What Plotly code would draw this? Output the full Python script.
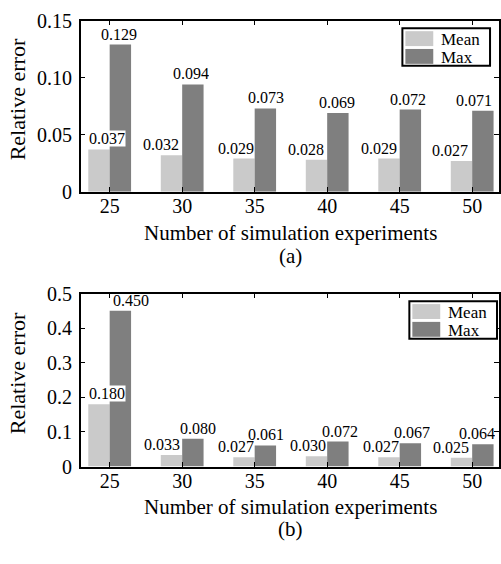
import plotly.graph_objects as go

# ---------------- data ----------------
categories = ["25", "30", "35", "40", "45", "50"]
mean_a = [0.037, 0.032, 0.029, 0.028, 0.029, 0.027]
max_a = [0.129, 0.094, 0.073, 0.069, 0.072, 0.071]
mean_b = [0.180, 0.033, 0.027, 0.030, 0.027, 0.025]
max_b = [0.450, 0.080, 0.061, 0.072, 0.067, 0.064]
yticks_a = [0, 0.05, 0.10, 0.15]
yticklabels_a = ["0", "0.05", "0.10", "0.15"]
yticks_b = [0, 0.1, 0.2, 0.3, 0.4, 0.5]
yticklabels_b = ["0", "0.1", "0.2", "0.3", "0.4", "0.5"]
series_names = ["Mean", "Max"]
x_title = "Number of simulation experiments"
y_title = "Relative error"
panel_labels = ["(a)", "(b)"]

# ---------------- style ----------------
W, H = 501, 564
FONT = "Liberation Serif, Times New Roman, serif"
C_MEAN = "#cacaca"
C_MAX = "#7f7f7f"
BARGAP = 0.41
# label nudges in px (style only)
nudge_mean_a = [8, -10, -8, -10, -10, -11]
nudge_max_a = [-1, -2, 1, -1, -2, -9]
nudge_mean_b = [8, -9, -8, -8, -8, -10]
nudge_max_b = [11, 5, 1, 2, 2, -6]


def px_x(p):
    return p / W


def px_y(p):
    return 1 - p / H


panels = [
    dict(mean=mean_a, mx=max_a, top=10, bottom=188, rng=[0, 0.15],
         tv=yticks_a, tt=yticklabels_a, nm=nudge_mean_a, nx=nudge_max_a,
         leg=(404, 18, 492, 57), xt=231, pl=254.5, label=panel_labels[0]),
    dict(mean=mean_b, mx=max_b, top=294, bottom=474, rng=[0, 0.5],
         tv=yticks_b, tt=yticklabels_b, nm=nudge_mean_b, nx=nudge_max_b,
         leg=(411, 302, 499, 341), xt=516, pl=539.5, label=panel_labels[1]),
]

fig = go.Figure()
annotations = []
shapes = []
half = (1 - BARGAP) / 4.0

for i, p in enumerate(panels):
    xa = "x" if i == 0 else "x2"
    ya = "y" if i == 0 else "y2"
    fig.add_trace(go.Bar(x=categories, y=p["mean"], name=series_names[0],
                         marker=dict(color=C_MEAN, line=dict(width=0)),
                         xaxis=xa, yaxis=ya, showlegend=False))
    fig.add_trace(go.Bar(x=categories, y=p["mx"], name=series_names[1],
                         marker=dict(color=C_MAX, line=dict(width=0)),
                         xaxis=xa, yaxis=ya, showlegend=False))
    # value labels
    for k in range(len(categories)):
        annotations.append(dict(
            x=k - half, y=p["mean"][k], xref=xa, yref=ya,
            text=f"{p['mean'][k]:.3f}", showarrow=False,
            yanchor="bottom", xanchor="center", yshift=2, xshift=p["nm"][k],
            font=dict(family=FONT, size=16, color="black"), height=15,
            bgcolor="white" if k == 0 else "rgba(0,0,0,0)",
            borderpad=0))
        annotations.append(dict(
            x=k + half, y=p["mx"][k], xref=xa, yref=ya,
            text=f"{p['mx'][k]:.3f}", showarrow=False,
            yanchor="bottom", xanchor="center", yshift=2, xshift=p["nx"][k],
            font=dict(family=FONT, size=16, color="black"), height=15, borderpad=0))
    # axis titles
    cx = (81 + 503) / 2
    annotations.append(dict(x=px_x(cx), y=px_y(p["xt"]), xref="paper", yref="paper",
                            text=x_title, showarrow=False, xanchor="center", yanchor="middle",
                            font=dict(family=FONT, size=21, color="black")))
    annotations.append(dict(x=px_x(cx), y=px_y(p["pl"]), xref="paper", yref="paper",
                            text=p["label"], showarrow=False, xanchor="center", yanchor="middle",
                            font=dict(family=FONT, size=21, color="black")))
    annotations.append(dict(x=px_x(17), y=px_y((p["top"] + p["bottom"]) / 2 - 7),
                            xref="paper", yref="paper", text=y_title, textangle=-90,
                            showarrow=False, xanchor="center", yanchor="middle",
                            font=dict(family=FONT, size=22, color="black")))
    # manual legend
    lx0, ly0, lx1, ly1 = p["leg"]
    shapes.append(dict(type="rect", xref="paper", yref="paper",
                       x0=px_x(lx0), x1=px_x(lx1), y0=px_y(ly1), y1=px_y(ly0),
                       line=dict(color="black", width=2), fillcolor="white", layer="above"))
    rowh = (ly1 - ly0) / 2
    for r, (nm, col) in enumerate(zip(series_names, [C_MEAN, C_MAX])):
        ry0 = ly0 + 3 + r * (rowh - 1)
        ry1 = ry0 + rowh - 4
        shapes.append(dict(type="rect", xref="paper", yref="paper",
                           x0=px_x(lx0 + 3), x1=px_x(lx0 + 31), y0=px_y(ry1), y1=px_y(ry0),
                           line=dict(width=0), fillcolor=col, layer="above"))
        annotations.append(dict(x=px_x(lx0 + 37), y=px_y((ry0 + ry1) / 2 + 1), xref="paper",
                                yref="paper", text=nm, showarrow=False, xanchor="left",
                                yanchor="middle",
                                font=dict(family=FONT, size=17, color="black")))

axis_common = dict(showline=True, linecolor="black", linewidth=1.5, mirror="allticks",
                   ticks="inside", ticklen=5, tickwidth=1, tickcolor="black",
                   showgrid=False, zeroline=False,
                   tickfont=dict(family=FONT, size=20, color="black"))

layout = dict(
    width=W, height=H, margin=dict(l=0, r=0, t=0, b=0),
    paper_bgcolor="white", plot_bgcolor="white",
    barmode="group", bargap=BARGAP, bargroupgap=0,
    showlegend=False,
    annotations=annotations, shapes=shapes,
)
for i, p in enumerate(panels):
    sx = "" if i == 0 else "2"
    layout["xaxis" + sx] = dict(axis_common, domain=[px_x(81), 1.0], range=[-0.4, 5.37],
                                type="category", anchor="y" + sx, ticklabelstandoff=-4)
    layout["yaxis" + sx] = dict(axis_common, domain=[px_y(p["bottom"]), px_y(p["top"])],
                                range=p["rng"], tickvals=p["tv"], ticktext=p["tt"],
                                anchor="x" + sx, ticklabelstandoff=3)

fig.update_layout(**layout)
fig.write_html("out.html")
